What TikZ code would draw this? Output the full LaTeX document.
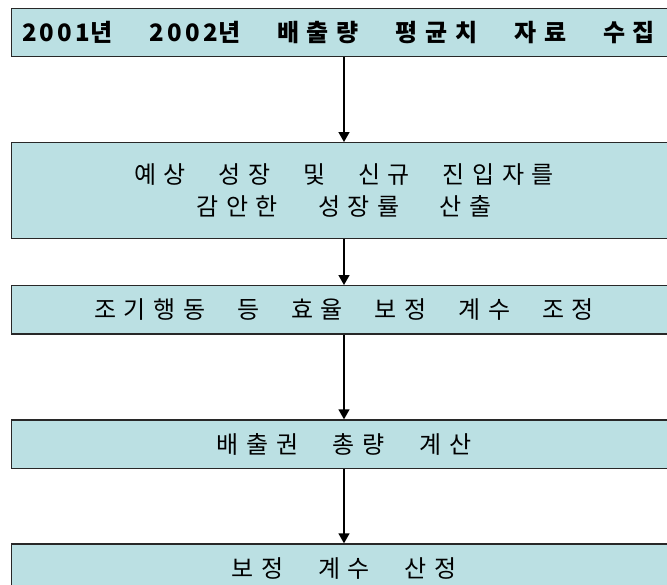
\documentclass[tikz,border=0pt]{standalone}
\usepackage{fontspec}
\newfontfamily\kr[LetterSpace=32]{Noto Sans CJK KR}
\newfontfamily\krd[LetterSpace=14]{Noto Sans CJK KR}
\usetikzlibrary{arrows.meta}
\definecolor{boxfill}{RGB}{187,224,227}
\definecolor{boxline}{RGB}{40,40,40}
\tikzset{
  stepbox/.style={draw=boxline, line width=1.4pt, fill=boxfill, minimum width=664.6pt,
    inner sep=0pt, font=\kr\fontsize{24}{32}\selectfont, align=center},
  flow/.style={-{Triangle[width=11pt,length=10pt]}, line width=1.6pt}
}
\begin{document}
\begin{tikzpicture}[x=1pt,y=-1pt]
\useasboundingbox (0,0) rectangle (667,584);
\clip (0,0) rectangle (667,584);
\node[stepbox, minimum height=48.4pt] (b1) at (344,32.5)
  {\makebox[633pt][s]{\bfseries{\krd\bfseries 2001}년 {\krd\bfseries 2002}년 배출량 평균치 자료 수집}\hspace{11pt}};
\node[stepbox, minimum height=95.6pt] (b2) at (344,190.5)
  {\makebox[420pt][s]{예상 성장 및 신규 진입자를}\\\makebox[295pt][s]{감안한 성장률 산출}};
\node[stepbox, minimum height=48.3pt] (b3) at (344,309.85)
  {\makebox[500pt][s]{조기행동 등 효율 보정 계수 조정}};
\node[stepbox, minimum height=48.3pt] (b4) at (344,444.15)
  {\makebox[255pt][s]{배출권 총량 계산}};
\node[stepbox, minimum height=48.3pt] (b5) at (344,568.15)
  {\makebox[225pt][s]{보정 계수 산정}};
\draw[flow] (b1) -- (b2);
\draw[flow] (b2) -- (b3);
\draw[flow] (b3) -- (b4);
\draw[flow] (b4) -- (b5);
\end{tikzpicture}
\end{document}
